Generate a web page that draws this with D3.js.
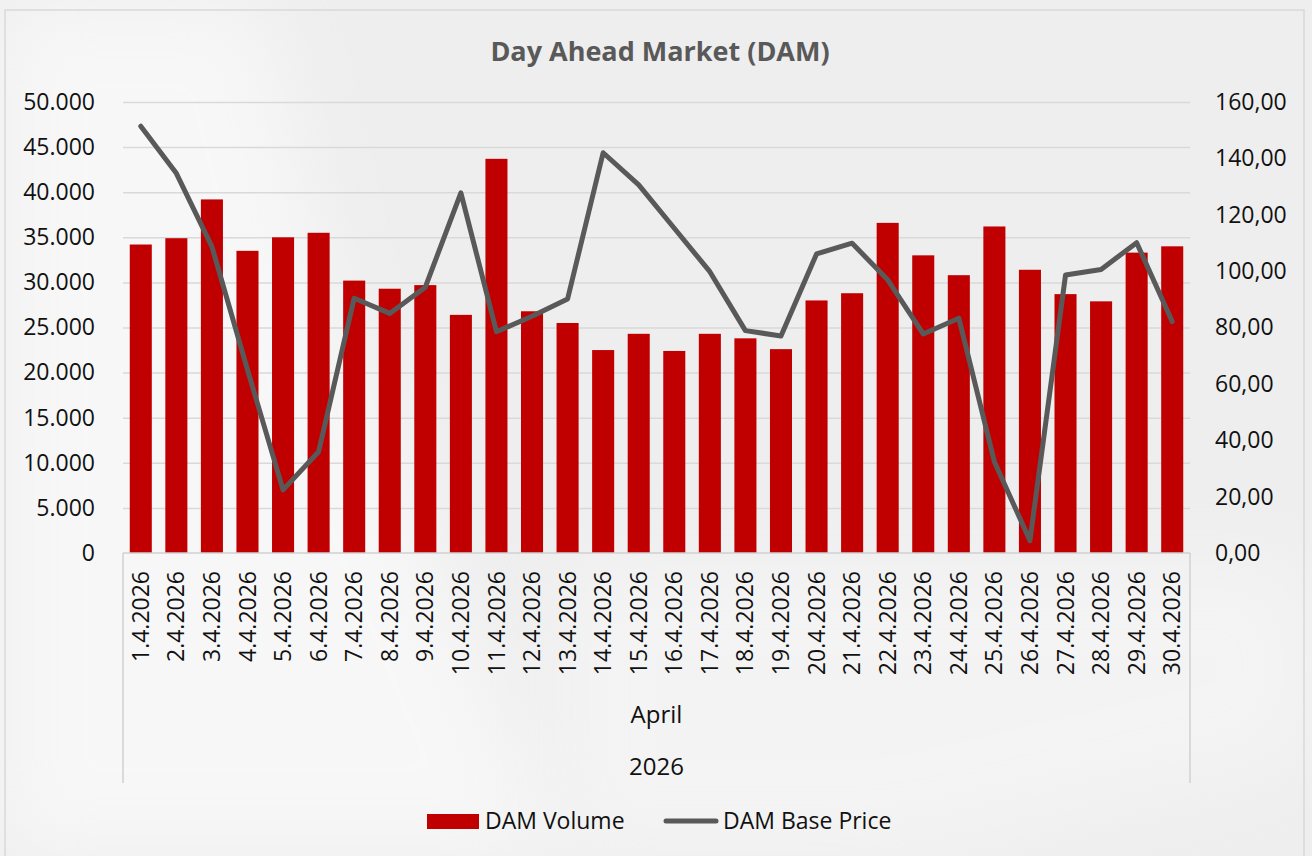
<!DOCTYPE html>
<html>
<head>
<meta charset="utf-8">
<script src="https://cdn.jsdelivr.net/npm/d3@7"></script>
<style>
  body { margin: 0; background: #efefef; }
  svg { display: block; font-family: 'Open Sans', sans-serif; }
</style>
</head>
<body>
<script>
let width = 1312,
    height = 856

// data
let days = ['1.4.2026', '2.4.2026', '3.4.2026', '4.4.2026', '5.4.2026', '6.4.2026', '7.4.2026', '8.4.2026',
    '9.4.2026', '10.4.2026', '11.4.2026', '12.4.2026', '13.4.2026', '14.4.2026', '15.4.2026', '16.4.2026',
    '17.4.2026', '18.4.2026', '19.4.2026', '20.4.2026', '21.4.2026', '22.4.2026', '23.4.2026', '24.4.2026',
    '25.4.2026', '26.4.2026', '27.4.2026', '28.4.2026', '29.4.2026', '30.4.2026']
let volume = [34200, 34900, 39200, 33500, 35000, 35500, 30200, 29300, 29700, 26400,
    43700, 26800, 25500, 22500, 24300, 22400, 24300, 23800, 22600, 28000,
    28800, 36600, 33000, 30800, 36200, 31400, 28700, 27900, 33300, 34000]
let price = [151.4, 134.7, 108.7, 65.0, 22.4, 35.9, 90.4, 85.0, 94.3, 127.8,
    78.5, 84.0, 90.1, 142.0, 130.6, 115.2, 99.8, 78.9, 77.0, 106.1,
    109.9, 96.9, 77.7, 83.3, 32.4, 4.4, 98.6, 100.6, 110.1, 82.1]
let volumeTicks = d3.range(0, 50001, 5000)
let priceTicks = d3.range(0, 161, 20)
let monthLabel = 'April',
    yearLabel = '2026',
    title = 'Day Ahead Market (DAM)',
    seriesNames = ['DAM Volume', 'DAM Base Price']

let plotLeft = 123, plotRight = 1190, plotTop = 102, plotBottom = 553
let barColor = '#c00000', lineColor = '#595959', gridColor = '#d9d9d9'
let fontSize = 23

let locale = d3.formatLocale({decimal: ',', thousands: '.', grouping: [3], currency: ['', '']})
let fmtVol = locale.format(',.0f'),
    fmtPrice = locale.format(',.2f')

let svg = d3.select('body').append('svg')
    .attr('width', width)
    .attr('height', height)

// background with a soft light streak
let defs = svg.append('defs')
defs.append('filter').attr('id', 'blur')
    .attr('x', '-50%').attr('y', '-50%').attr('width', '200%').attr('height', '200%')
    .append('feGaussianBlur').attr('stdDeviation', 40)

svg.append('rect')
    .attr('width', width)
    .attr('height', height)
    .attr('fill', '#eeeeee')

svg.append('path')
    .attr('d', 'M0,0 L260,0 L330,300 L560,856 L0,856 Z')
    .attr('fill', '#ffffff')
    .attr('opacity', 0.55)
    .attr('filter', 'url(#blur)')

svg.append('path')
    .attr('d', 'M560,560 L1312,560 L1312,760 L900,856 L560,856 Z')
    .attr('fill', '#ffffff')
    .attr('opacity', 0.35)
    .attr('filter', 'url(#blur)')

svg.append('rect')
    .attr('x', 5)
    .attr('y', 10)
    .attr('width', 1299)
    .attr('height', 860)
    .attr('fill', 'none')
    .attr('stroke', '#d9d9d9')
    .attr('stroke-width', 1.5)

let x = d3.scaleBand()
    .domain(days)
    .range([plotLeft, plotRight])
    .paddingInner(0.38)
    .paddingOuter(0.19)

let yVol = d3.scaleLinear()
    .domain([0, 50000])
    .range([plotBottom, plotTop])

let yPrice = d3.scaleLinear()
    .domain([0, 160])
    .range([plotBottom, plotTop])

// gridlines
svg.append('g')
    .attr('class', 'grid')
    .attr('transform', 'translate(' + plotLeft + ',0)')
    .call(d3.axisLeft(yVol).tickValues(volumeTicks.slice(1)).tickSize(-(plotRight - plotLeft)).tickFormat(''))
    .call(g => g.select('.domain').remove())
    .selectAll('line')
    .attr('stroke', gridColor)
    .attr('stroke-width', 1.5)

// left axis labels
let axL = svg.append('g')
    .attr('transform', 'translate(' + (plotLeft - 28) + ',0)')
    .call(d3.axisLeft(yVol).tickValues(volumeTicks).tickSize(0).tickPadding(0).tickFormat(fmtVol))
axL.select('.domain').remove()
axL.selectAll('text')
    .attr('font-size', fontSize)
    .attr('font-family', 'Open Sans, sans-serif')
    .attr('fill', '#111')

// right axis labels
let axR = svg.append('g')
    .attr('transform', 'translate(' + (plotRight + 25) + ',0)')
    .call(d3.axisRight(yPrice).tickValues(priceTicks).tickSize(0).tickPadding(0).tickFormat(fmtPrice))
axR.select('.domain').remove()
axR.selectAll('text')
    .attr('font-size', fontSize)
    .attr('font-family', 'Open Sans, sans-serif')
    .attr('fill', '#111')

// bars
svg.append('g').selectAll('rect')
    .data(volume)
    .enter()
    .append('rect')
    .attr('x', (d, i) => x(days[i]))
    .attr('y', d => yVol(d))
    .attr('width', x.bandwidth())
    .attr('height', d => yVol(0) - yVol(d))
    .attr('fill', barColor)

// category axis
svg.append('line')
    .attr('x1', plotLeft).attr('x2', plotRight)
    .attr('y1', plotBottom).attr('y2', plotBottom)
    .attr('stroke', '#d0d0d0')
    .attr('stroke-width', 1.5)

;[plotLeft, plotRight].forEach(function(xx) {
    svg.append('line')
        .attr('x1', xx).attr('x2', xx)
        .attr('y1', plotBottom).attr('y2', 783)
        .attr('stroke', '#d0d0d0')
        .attr('stroke-width', 1.5)
})

svg.append('g').selectAll('text')
    .data(days)
    .enter()
    .append('text')
    .attr('transform', d => 'translate(' + (x(d) + x.bandwidth() / 2) + ',' + 571 + ') rotate(-90)')
    .attr('text-anchor', 'end')
    .attr('dy', '0.35em')
    .attr('font-size', fontSize)
    .attr('fill', '#111')
    .text(d => d)

svg.append('text')
    .attr('x', (plotLeft + plotRight) / 2)
    .attr('y', 723)
    .attr('text-anchor', 'middle')
    .attr('font-size', 24)
    .attr('fill', '#111')
    .text(monthLabel)

svg.append('text')
    .attr('x', (plotLeft + plotRight) / 2)
    .attr('y', 775)
    .attr('text-anchor', 'middle')
    .attr('font-size', 24)
    .attr('fill', '#111')
    .text(yearLabel)

// price line
let line = d3.line()
    .x((d, i) => x(days[i]) + x.bandwidth() / 2)
    .y(d => yPrice(d))

svg.append('path')
    .datum(price)
    .attr('d', line)
    .attr('fill', 'none')
    .attr('stroke', lineColor)
    .attr('stroke-width', 5)
    .attr('stroke-linejoin', 'round')
    .attr('stroke-linecap', 'round')

// title
svg.append('text')
    .attr('x', 660)
    .attr('y', 61)
    .attr('text-anchor', 'middle')
    .attr('font-size', 27)
    .attr('font-weight', 'bold')
    .attr('fill', '#595959')
    .text(title)

// legend
let legend = svg.append('g')
legend.append('rect')
    .attr('x', 427).attr('y', 814)
    .attr('width', 52).attr('height', 15)
    .attr('fill', barColor)
legend.append('text')
    .attr('x', 485).attr('y', 829)
    .attr('font-size', fontSize)
    .attr('fill', '#111')
    .text(seriesNames[0])
legend.append('line')
    .attr('x1', 666).attr('x2', 716)
    .attr('y1', 821).attr('y2', 821)
    .attr('stroke', lineColor)
    .attr('stroke-width', 5)
    .attr('stroke-linecap', 'round')
legend.append('text')
    .attr('x', 723).attr('y', 829)
    .attr('font-size', fontSize)
    .attr('fill', '#111')
    .text(seriesNames[1])
</script>
</body>
</html>
